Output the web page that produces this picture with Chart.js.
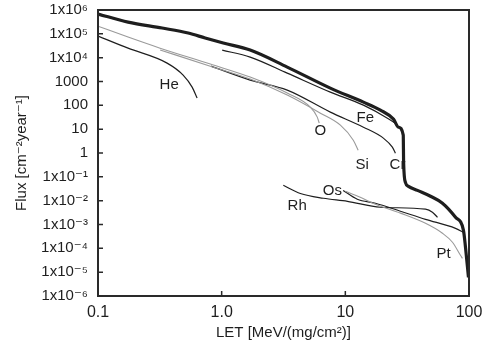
<!DOCTYPE html>
<html><head><meta charset="utf-8">
<script src="https://cdn.jsdelivr.net/npm/chart.js@4/dist/chart.umd.min.js"></script>
<style>html,body{margin:0;padding:0;background:#fff}#wrap{width:487px;height:346px}</style>
</head><body><div id="wrap"><canvas id="c" width="487" height="346"></canvas></div>
<script>
// ---- tick values / labels ----
const xTickValues = [0.1, 1, 10, 100];
const xTickLabels = ['0.1', '1.0', '10', '100'];
const yTickValues = [1e6, 1e5, 1e4, 1000, 100, 10, 1, 0.1, 0.01, 1e-3, 1e-4, 1e-5, 1e-6];
const yTickLabels = ['1x10\u2076', '1x10\u2075', '1x10\u2074', '1000', '100', '10', '1',
  '1x10\u207B\u00B9', '1x10\u207B\u00B2', '1x10\u207B\u00B3', '1x10\u207B\u2074', '1x10\u207B\u2075', '1x10\u207B\u2076'];

// ---- series (LET [MeV/(mg/cm2)], Flux [cm-2 year-1]) ----
const totalLET  = [0.1, 0.175, 0.33, 0.536, 0.735, 1.03, 1.70, 3.39, 7.56, 14.0, 19.2, 24.5, 26.9, 29.4, 29.6, 30.6, 32.4, 38.3, 48.8, 61, 77.8, 90.2, 93.7, 99];
const totalFlux = [6.8e5, 3.1e5, 1.75e5, 1.08e5, 6.7e4, 4.1e4, 2.08e4, 4030, 528, 136, 62.8, 26.3, 12.1, 5.6, 0.41, 0.059, 0.040, 0.027, 0.0153, 0.0078, 0.0020, 5.7e-4, 1.1e-4, 6e-6];

const heLET  = [0.1, 0.175, 0.362, 0.488, 0.577, 0.633];
const heFlux = [8.1e4, 2.5e4, 5900, 1860, 582, 201];

const oLET  = [0.1, 0.175, 0.318, 0.81, 1.70, 3.39, 5.21, 5.93, 6.15];
const oFlux = [2.1e5, 7.3e4, 2.5e4, 5400, 1530, 326, 84, 32, 17.9];

const siLET  = [0.318, 0.81, 1.70, 3.39, 6.28, 9.12, 11.6, 12.7];
const siFlux = [2.1e4, 4400, 1260, 269, 47, 14.7, 3.45, 1.31];

const feLET  = [1.01, 1.70, 3.39, 7.56, 14.0, 21.9, 25.9];
const feFlux = [2.08e4, 1.06e4, 2250, 359, 102, 29, 16.2];

const crLET  = [0.82, 1.70, 3.39, 7.56, 14.0, 20.3, 24.0, 25.4];
const crFlux = [4400, 1146, 436, 52, 12.1, 4.2, 1.75, 0.98];

const rhLET  = [3.15, 4.33, 6.64, 10.4, 19.2, 44.5, 50.6, 55.6];
const rhFlux = [0.044, 0.020, 0.0126, 0.0094, 0.0053, 0.0044, 0.0033, 0.0020];

const osLET  = [9.6, 12.5, 17.5, 27.9, 44.5, 77.8, 90.2];
const osFlux = [0.027, 0.0115, 0.0078, 0.0036, 0.00165, 6.9e-4, 4.7e-4];

const ptLET  = [10, 13.2, 17.5, 27.9, 44.5, 61, 73.5, 85.3, 88.5];
const ptFlux = [0.025, 0.0139, 0.0071, 0.0030, 0.00112, 4.3e-4, 1.8e-4, 5.1e-5, 3.8e-5];

// ---- curve labels (anchored in data units) ----
const labelNames = ['He', 'O', 'Fe', 'Si', 'Cr', 'Os', 'Rh', 'Pt'];
const labelLET   = [0.376, 6.28, 14.5, 13.7, 26.4, 7.85, 4.08, 62.2];
const labelFlux  = [706, 8.2, 29, 0.31, 0.31, 0.027, 0.0058, 5.6e-5];

const BLACK = '#1e1e1e', GRAY = '#9a9a9a';
const pts = (xs, ys) => xs.map((x, i) => ({x, y: ys[i]}));
const mk = (data, color, w) => ({data, borderColor: color, borderWidth: w, pointRadius: 0, fill: false,
  cubicInterpolationMode: 'monotone'});

const datasets = [
  mk(pts(oLET, oFlux), GRAY, 1.1),
  mk(pts(siLET, siFlux), GRAY, 1.1),
  mk(pts(ptLET, ptFlux), GRAY, 1.1),
  mk(pts(heLET, heFlux), BLACK, 1.2),
  mk(pts(feLET, feFlux), BLACK, 1.2),
  mk(pts(crLET, crFlux), BLACK, 1.2),
  mk(pts(rhLET, rhFlux), BLACK, 1.2),
  mk(pts(osLET, osFlux), BLACK, 1.2),
  mk(pts(totalLET, totalFlux), BLACK, 3.2)
];

const FONT = "'Liberation Sans', Arial, 'DejaVu Sans', sans-serif";

const framePlugin = {
  id: 'frame',
  afterDatasetsDraw(chart) {
    const {ctx, chartArea: a, scales} = chart;
    ctx.save();
    ctx.strokeStyle = '#2a2a2a';
    ctx.lineWidth = 2;
    ctx.strokeRect(a.left, a.top, a.right - a.left, a.bottom - a.top);
    ctx.lineWidth = 1.5;
    ctx.beginPath();
    yTickValues.forEach(v => {
      const y = scales.y.getPixelForValue(v);
      ctx.moveTo(a.left, y); ctx.lineTo(a.left + 5, y);
    });
    xTickValues.forEach(v => {
      const x = scales.x.getPixelForValue(v);
      ctx.moveTo(x, a.bottom); ctx.lineTo(x, a.bottom - 5);
    });
    ctx.stroke();
    ctx.fillStyle = '#1e1e1e';
    ctx.font = '15px ' + FONT;
    ctx.textAlign = 'center';
    ctx.textBaseline = 'middle';
    labelNames.forEach((t, i) => {
      ctx.fillText(t, scales.x.getPixelForValue(labelLET[i]), scales.y.getPixelForValue(labelFlux[i]));
    });
    ctx.restore();
  }
};

new Chart(document.getElementById('c'), {
  type: 'line',
  data: {datasets},
  plugins: [framePlugin],
  options: {
    responsive: false,
    animation: false,
    devicePixelRatio: 1,
    layout: {padding: {top: 10, right: 18, left: 0, bottom: 0}},
    plugins: {legend: {display: false}, tooltip: {enabled: false}},
    scales: {
      x: {
        type: 'logarithmic', min: 0.1, max: 100, position: 'bottom',
        afterBuildTicks: s => { s.ticks = xTickValues.map(v => ({value: v})); },
        afterFit: s => { s.height = 50; s.paddingLeft = 0; s.paddingRight = 0; },
        grid: {display: false, drawTicks: false},
        border: {display: false},
        ticks: {autoSkip: false, maxRotation: 0, padding: 7, color: '#1e1e1e',
          font: {family: FONT, size: 16}, callback: (v, i) => xTickLabels[i]},
        title: {display: true, text: 'LET [MeV/(mg/cm\u00B2)]', color: '#1e1e1e',
          font: {family: FONT, size: 15}, padding: {top: 0, bottom: 4}}
      },
      y: {
        type: 'logarithmic', min: 1e-6, max: 1e6, position: 'left',
        afterBuildTicks: s => { s.ticks = yTickValues.map(v => ({value: v})); },
        afterFit: s => { s.width = 98; s.paddingTop = 0; s.paddingBottom = 0; },
        grid: {display: false, drawTicks: false},
        border: {display: false},
        ticks: {autoSkip: false, padding: 10, color: '#1e1e1e',
          font: {family: FONT, size: 15}, callback: (v, i) => yTickLabels[i]},
        title: {display: true, text: 'Flux [cm\u207B\u00B2year\u207B\u00B9]', color: '#1e1e1e',
          font: {family: FONT, size: 15}, padding: {top: 13, bottom: 0}}
      }
    }
  }
});
</script></body></html>
